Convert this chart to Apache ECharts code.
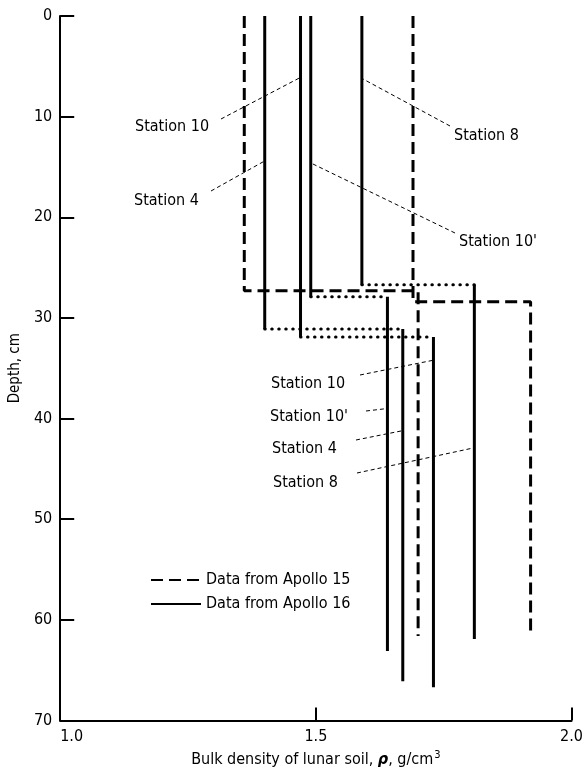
<!DOCTYPE html>
<html>
<head>
<meta charset="utf-8">
<script src="https://cdn.jsdelivr.net/npm/echarts@6/dist/echarts.min.js"></script>
<style>
  html, body { margin: 0; padding: 0; background: #fff; }
  #chart { width: 586px; height: 773px; }
</style>
</head>
<body>
<div id="chart"></div>
<script>
// ---------------- data ----------------
const depthTicks = [0, 10, 20, 30, 40, 50, 60, 70];
const densityTicks = ['1.0', '1.5', '2.0'];

// Apollo 16 stations (solid profiles, dotted connectors)
const stations16 = ['Station 4', 'Station 10', "Station 10'", 'Station 8'];
const upperDensity16 = [1.40, 1.47, 1.49, 1.59];
const breakDepth16 = [31.1, 31.9, 27.9, 26.7];
const lowerDensity16 = [1.67, 1.73, 1.64, 1.81];
const bottomDepth16 = [66.1, 66.7, 63.1, 61.9];

// Apollo 15 profiles (dashed)
const upperDensity15 = [1.36, 1.69];
const breakDepth15 = [27.3, 28.4];
const lowerDensity15 = [1.70, 1.92];
const bottomDepth15 = [61.6, 61.4];

// ---------------- chart ----------------
const FONT = '"DejaVu Sans Condensed", "DejaVu Sans", sans-serif';
const chart = echarts.init(document.getElementById('chart'), null, { renderer: 'canvas' });

const series = [];
const dash15 = { color: '#000', width: 3, type: [12, 6] };
const solid16 = { color: '#000', width: 3, type: 'solid' };
const dot16 = { color: '#000', width: 3, type: [0.5, 6.5], cap: 'round' };

function lineSeries(name, data, style) {
  return {
    type: 'line', name: name, data: data, symbol: 'none', showSymbol: false,
    itemStyle: { color: '#000', opacity: 0 },
    lineStyle: style, silent: true, animation: false, z: 3
  };
}

for (let i = 0; i < upperDensity15.length; i++) {
  series.push(lineSeries('Data from Apollo 15', [
    [upperDensity15[i], 0], [upperDensity15[i], breakDepth15[i]],
    [lowerDensity15[i], breakDepth15[i]], [lowerDensity15[i], bottomDepth15[i]]
  ], dash15));
}
for (let i = 0; i < stations16.length; i++) {
  series.push(lineSeries('Data from Apollo 16', [
    [upperDensity16[i], 0], [upperDensity16[i], breakDepth16[i]]
  ], solid16));
  series.push(lineSeries('Apollo 16 step', [
    [upperDensity16[i], breakDepth16[i]], [lowerDensity16[i], breakDepth16[i]]
  ], dot16));
  series.push(lineSeries('Data from Apollo 16', [
    [lowerDensity16[i], breakDepth16[i]], [lowerDensity16[i], bottomDepth16[i]]
  ], solid16));
}

const option = {
  backgroundColor: '#fff',
  animation: false,
  textStyle: { fontFamily: FONT, color: '#000' },
  grid: { left: 58.5, right: 14.5, top: 16, bottom: 52.5, containLabel: false },
  legend: {
    data: ['Data from Apollo 15', 'Data from Apollo 16'],
    orient: 'vertical', left: 145, top: 567,
    itemWidth: 50, itemHeight: 14, itemGap: 8,
    selectedMode: false,
    itemStyle: { opacity: 0 },
    textStyle: { fontFamily: FONT, fontSize: 16, color: '#000' }
  },
  xAxis: {
    type: 'value', min: 1.0, max: 2.0, interval: 0.5,
    name: 'Bulk density of lunar soil, {b|ρ}, g/cm{sup|3}',
    nameLocation: 'middle', nameGap: 27,
    nameTextStyle: {
      fontFamily: FONT, fontSize: 16, color: '#000',
      rich: {
        b: { fontFamily: FONT, fontSize: 16, fontWeight: 'bold', fontStyle: 'italic', color: '#000' },
        sup: { fontFamily: FONT, fontSize: 11, color: '#000', verticalAlign: 'bottom', padding: [0, 0, 9, 1] }
      }
    },
    axisLine: { show: true, onZero: false, lineStyle: { color: '#000', width: 2 } },
    axisTick: { show: true, inside: true, length: 13, lineStyle: { color: '#000', width: 2 } },
    axisLabel: {
      fontFamily: FONT, fontSize: 16, color: '#000', margin: 8,
      alignMinLabel: 'left',
      formatter: function (v) {
        const idx = Math.round((v - 1.0) / 0.5);
        return densityTicks[idx] !== undefined ? densityTicks[idx] : '';
      }
    },
    splitLine: { show: false }
  },
  yAxis: {
    type: 'value', min: 0, max: 70, interval: 10, inverse: true,
    name: 'Depth, cm', nameLocation: 'middle', nameGap: 33,
    nameTextStyle: { fontFamily: FONT, fontSize: 15, color: '#000' },
    axisLine: { show: true, onZero: false, lineStyle: { color: '#000', width: 2 } },
    axisTick: { show: true, inside: true, length: 14, lineStyle: { color: '#000', width: 2 } },
    axisLabel: {
      fontFamily: FONT, fontSize: 16, color: '#000', margin: 8,
      formatter: function (v) { return depthTicks.indexOf(v) >= 0 ? String(v) : ''; }
    },
    splitLine: { show: false }
  },
  series: series
};
chart.setOption(option);

// ---------------- station annotations ----------------
const annotations = [
  { text: 'Station 10',  tx: 135, ty: 127, lx: 221, ly: 119, st: 1, seg: 'u', d: 6.1 },
  { text: 'Station 4',   tx: 134, ty: 201, lx: 211, ly: 191, st: 0, seg: 'u', d: 14.4 },
  { text: 'Station 8',   tx: 454, ty: 136, lx: 450, ly: 126, st: 3, seg: 'u', d: 6.2 },
  { text: "Station 10'", tx: 459, ty: 242, lx: 455, ly: 233, st: 2, seg: 'u', d: 14.6 },
  { text: 'Station 10',  tx: 271, ty: 384, lx: 360, ly: 375, st: 1, seg: 'l', d: 34.2 },
  { text: "Station 10'", tx: 270, ty: 417, lx: 366, ly: 411, st: 2, seg: 'l', d: 39.0 },
  { text: 'Station 4',   tx: 272, ty: 449, lx: 356, ly: 440, st: 0, seg: 'l', d: 41.2 },
  { text: 'Station 8',   tx: 273, ty: 483, lx: 357, ly: 473, st: 3, seg: 'l', d: 42.9 }
];

const graphics = [];
annotations.forEach(function (a) {
  const dens = a.seg === 'u' ? upperDensity16[a.st] : lowerDensity16[a.st];
  const p = chart.convertToPixel({ gridIndex: 0 }, [dens, a.d]);
  graphics.push({
    type: 'line', silent: true, z: 10,
    shape: { x1: a.lx, y1: a.ly, x2: p[0], y2: p[1] },
    style: { stroke: '#000', lineWidth: 1, lineDash: [4, 3] }
  });
  graphics.push({
    type: 'text', silent: true, z: 10, x: a.tx, y: a.ty,
    style: { text: a.text, fill: '#000', font: '16px ' + FONT, textAlign: 'left', textVerticalAlign: 'middle' }
  });
});
chart.setOption({ graphic: graphics });
</script>
</body>
</html>
